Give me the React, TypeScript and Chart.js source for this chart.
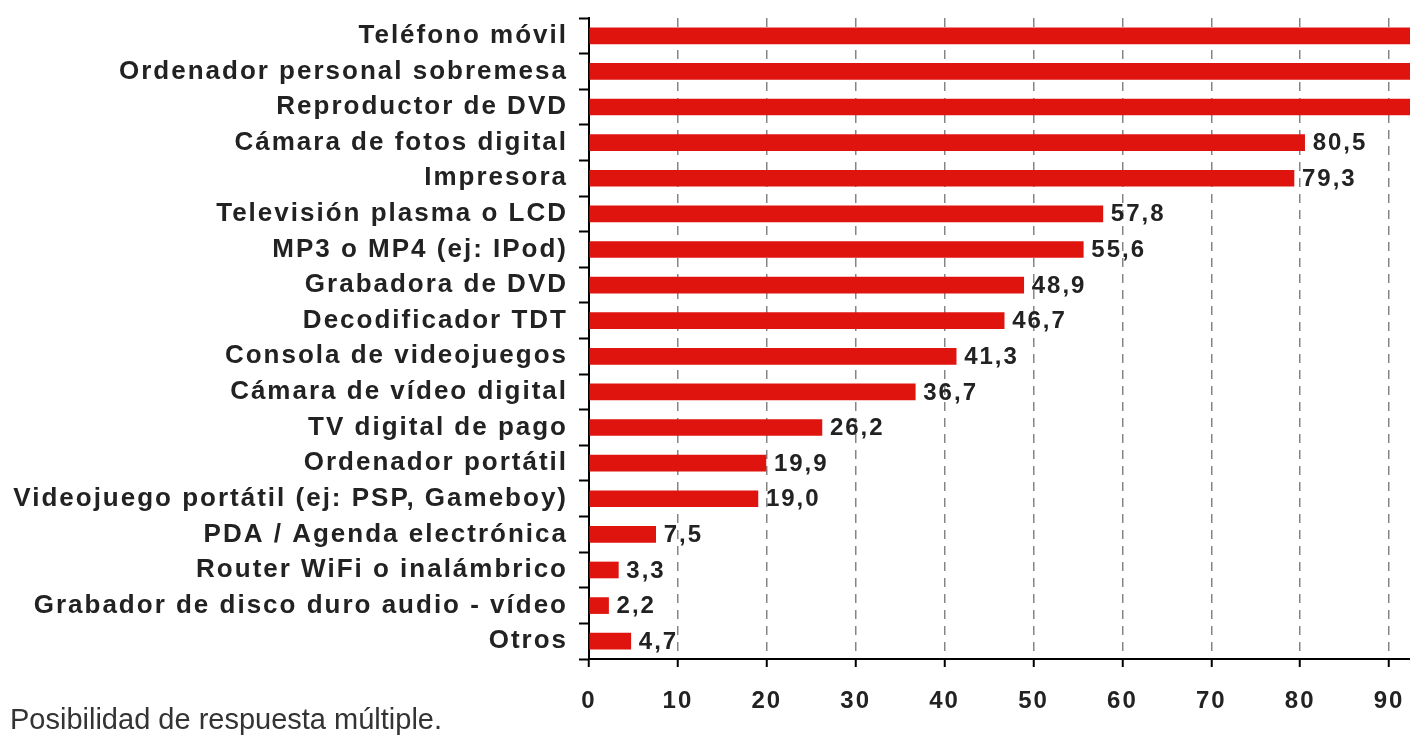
import React, { useEffect, useRef } from 'react';
import { Chart, registerables } from 'chart.js';

Chart.register(...registerables);

const categories = [
  'Teléfono móvil',
  'Ordenador personal sobremesa',
  'Reproductor de DVD',
  'Cámara de fotos digital',
  'Impresora',
  'Televisión plasma o LCD',
  'MP3 o MP4 (ej: IPod)',
  'Grabadora de DVD',
  'Decodificador TDT',
  'Consola de videojuegos',
  'Cámara de vídeo digital',
  'TV digital de pago',
  'Ordenador portátil',
  'Videojuego portátil (ej: PSP, Gameboy)',
  'PDA / Agenda electrónica',
  'Router WiFi o inalámbrico',
  'Grabador de disco duro audio - vídeo',
  'Otros',
];

const values = [97.1, 95.9, 93.4, 80.5, 79.3, 57.8, 55.6, 48.9, 46.7, 41.3, 36.7, 26.2, 19.9, 19.0, 7.5, 3.3, 2.2, 4.7];

const xMin = 0;
const xMax = 100;
const xStep = 10;

const footnote = 'Posibilidad de respuesta múltiple.';

const FONT = '"Liberation Sans", Arial, Helvetica, sans-serif';
const BAR_COLOR = '#e0140f';
const TEXT_COLOR = '#222222';

const fmt = (v: number) => v.toFixed(1).replace('.', ',');

export default function App() {
  const ref = useRef<HTMLCanvasElement>(null);

  useEffect(() => {
    if (!ref.current) return;

    const spacingPlugin = {
      id: 'spacing',
      beforeUpdate(c: any) { c.ctx.letterSpacing = '2px'; },
      beforeLayout(c: any) { c.ctx.letterSpacing = '2px'; },
      beforeDraw(c: any) { c.ctx.letterSpacing = '2px'; },
    };

    const labelPlugin = {
      id: 'valueLabels',
      afterDatasetsDraw(chart: any) {
        const ctx = chart.ctx;
        const meta = chart.getDatasetMeta(0);
        ctx.save();
        ctx.font = `bold 24px ${FONT}`;
        ctx.fillStyle = TEXT_COLOR;
        ctx.textBaseline = 'middle';
        ctx.textAlign = 'left';
        ctx.letterSpacing = '2px';
        meta.data.forEach((bar: any, i: number) => {
          ctx.fillText(fmt(values[i]), bar.x + 8, bar.y + 1);
        });
        ctx.restore();
      },
    };

    const chart = new Chart(ref.current, {
      type: 'bar',
      data: {
        labels: categories,
        datasets: [
          {
            data: values,
            backgroundColor: BAR_COLOR,
            borderWidth: 0,
            barThickness: 16,
          },
        ],
      },
      options: {
        indexAxis: 'y',
        animation: false,
        responsive: false,
        maintainAspectRatio: false,
        layout: { padding: { top: 18, right: 22, bottom: 0, left: 0 } },
        plugins: {
          legend: { display: false },
          tooltip: { enabled: false },
        },
        scales: {
          x: {
            type: 'linear',
            min: xMin,
            max: xMax,
            afterFit: (s: any) => {
              s.height = 79;
              s.paddingLeft = 0;
              s.paddingRight = 0;
            },
            ticks: {
              stepSize: xStep,
              color: TEXT_COLOR,
              padding: 20,
              maxRotation: 0,
              autoSkip: false,
              font: { family: FONT, size: 24, weight: 'bold' },
            },
            grid: {
              color: '#858585',
              lineWidth: 1.5,
              drawTicks: true,
              tickLength: 8,
              tickColor: '#000000',
              tickWidth: 2,
              tickBorderDash: [],
            },
            border: {
              display: true,
              color: '#000000',
              width: 2,
              dash: [9, 7],
            },
          },
          y: {
            type: 'category',
            afterFit: (s: any) => {
              s.width = 589;
              s.paddingTop = 0;
              s.paddingBottom = 0;
            },
            ticks: {
              color: TEXT_COLOR,
              padding: 11,
              autoSkip: false,
              font: { family: FONT, size: 26, weight: 'bold' },
            },
            grid: {
              drawOnChartArea: false,
              drawTicks: true,
              tickLength: 10,
              tickColor: '#000000',
              tickWidth: 2,
              offset: true,
            },
            border: {
              display: true,
              color: '#000000',
              width: 2,
            },
          },
        },
      },
      plugins: [spacingPlugin, labelPlugin],
    } as any);

    return () => chart.destroy();
  }, []);

  return (
    <div
      style={{
        position: 'fixed',
        left: 0,
        top: 0,
        width: 1410,
        height: 738,
        overflow: 'hidden',
        background: '#ffffff',
      }}
    >
      <canvas ref={ref} width={1500} height={738} style={{ display: 'block', width: 1500, height: 738 }} />
      <div
        style={{
          position: 'absolute',
          left: 10,
          top: 705,
          fontFamily: FONT,
          fontSize: 29,
          lineHeight: '29px',
          color: '#333333',
          whiteSpace: 'nowrap',
        }}
      >
        {footnote}
      </div>
    </div>
  );
}
